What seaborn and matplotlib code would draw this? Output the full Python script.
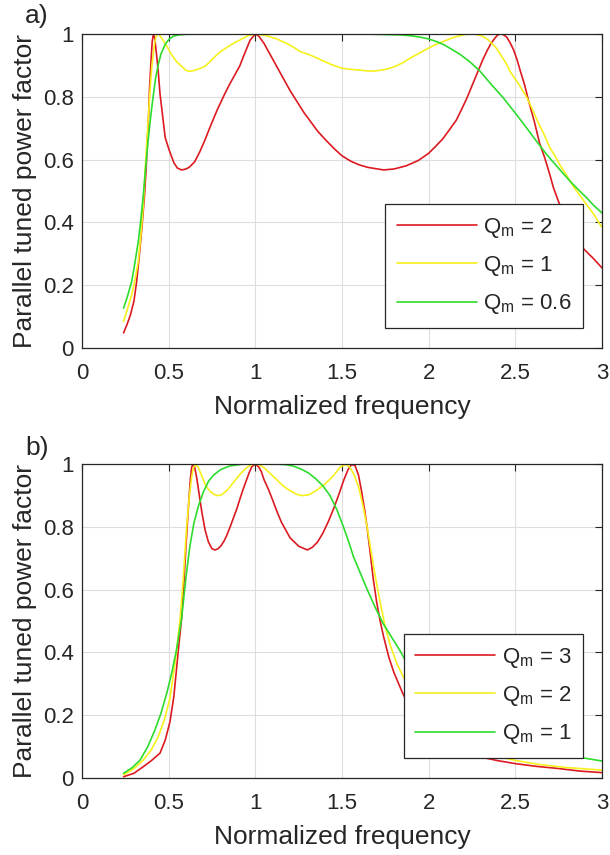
# Parallel tuned power factor vs normalized frequency (two panels)

import pandas as pd
import numpy as np
import matplotlib
matplotlib.use("Agg")
import matplotlib.pyplot as plt
import seaborn as sns

# --------------------------------------------------
# Data
# --------------------------------------------------

# panel a) Qm = 2
a_q2_x = [0.24, 0.26, 0.28, 0.30, 0.315, 0.33, 0.345, 0.36, 0.37, 0.385, 0.39, 0.40, 0.405,
          0.412, 0.42, 0.43, 0.44, 0.45, 0.48, 0.50, 0.53, 0.55, 0.575, 0.60, 0.62, 0.65,
          0.68, 0.71, 0.74, 0.78, 0.82, 0.85, 0.88, 0.91, 0.94, 0.97, 1.0, 1.02, 1.05, 1.08,
          1.12, 1.16, 1.2, 1.24, 1.28, 1.32, 1.36, 1.41, 1.46, 1.5, 1.55, 1.6, 1.65,
          1.74, 1.80, 1.87, 1.94, 2.0, 2.04, 2.08, 2.12, 2.16, 2.19, 2.22, 2.25, 2.28, 2.31,
          2.34, 2.36, 2.38, 2.395, 2.41, 2.43, 2.45, 2.47, 2.49, 2.51, 2.53, 2.555, 2.575,
          2.61, 2.64, 2.67, 2.7, 2.72, 2.75, 2.79, 2.835, 2.89, 2.95, 3.0]
a_q2_y = [0.048, 0.075, 0.106, 0.15, 0.21, 0.29, 0.38, 0.48, 0.57, 0.75, 0.83, 0.93, 0.975,
          1.0, 0.985, 0.935, 0.88, 0.81, 0.67, 0.635, 0.59, 0.573, 0.567, 0.57, 0.576, 0.593,
          0.625, 0.663, 0.705, 0.758, 0.805, 0.838, 0.868, 0.898, 0.94, 0.98, 1.0, 0.993, 0.97, 0.94,
          0.9, 0.86, 0.82, 0.785, 0.75, 0.72, 0.69, 0.66, 0.632, 0.612, 0.595, 0.583, 0.575,
          0.567, 0.57, 0.58, 0.597, 0.62, 0.642, 0.665, 0.695, 0.726, 0.76, 0.795, 0.835, 0.875, 0.915,
          0.95, 0.97, 0.985, 0.995, 1.0, 0.998, 0.99, 0.972, 0.949, 0.918, 0.88, 0.835, 0.79,
          0.72, 0.652, 0.605, 0.55, 0.51, 0.465, 0.41, 0.361, 0.318, 0.285, 0.255]

# panel a) Qm = 1
a_q1_x = [0.24, 0.26, 0.287, 0.305, 0.325, 0.34, 0.354, 0.366, 0.379, 0.39, 0.402, 0.412,
          0.42, 0.427, 0.435, 0.445, 0.46, 0.49, 0.517, 0.545, 0.575, 0.60, 0.62, 0.65, 0.68,
          0.71, 0.74, 0.777, 0.81, 0.85, 0.88, 0.912, 0.96, 1.0, 1.06, 1.12, 1.18, 1.22, 1.258,
          1.316, 1.36, 1.4, 1.45, 1.5, 1.55, 1.6, 1.65, 1.69, 1.75, 1.8, 1.85, 1.893, 1.95, 2.0,
          2.04, 2.085, 2.13, 2.17, 2.21, 2.248, 2.28, 2.31, 2.34, 2.364, 2.39, 2.42, 2.445, 2.47,
          2.52, 2.566, 2.6, 2.63, 2.67, 2.70, 2.73, 2.76, 2.79, 2.816, 2.84, 2.86, 2.88, 2.912,
          2.94, 2.96, 2.98, 3.0]
a_q1_y = [0.085, 0.12, 0.17, 0.215, 0.276, 0.36, 0.456, 0.58, 0.70, 0.80, 0.892, 0.94,
          0.975, 0.99, 1.0, 0.998, 0.987, 0.96, 0.934, 0.912, 0.897, 0.884, 0.881, 0.884, 0.89,
          0.897, 0.913, 0.933, 0.948, 0.962, 0.972, 0.981, 0.995, 1.0, 0.995, 0.985, 0.97, 0.958, 0.944,
          0.933, 0.922, 0.912, 0.9, 0.891, 0.887, 0.885, 0.882, 0.882, 0.887, 0.895, 0.908, 0.923, 0.94, 0.955,
          0.966, 0.976, 0.986, 0.993, 0.998, 1.0, 0.998, 0.993, 0.983, 0.97, 0.955, 0.93, 0.908, 0.88,
          0.84, 0.798, 0.758, 0.72, 0.675, 0.637, 0.61, 0.58, 0.555, 0.531, 0.51, 0.495, 0.48, 0.456,
          0.435, 0.42, 0.4, 0.385]

# panel a) Qm = 0.6
a_q06_x = [0.24, 0.26, 0.287, 0.305, 0.325, 0.34, 0.354, 0.368, 0.383, 0.398, 0.412, 0.425,
           0.44, 0.455, 0.479, 0.50, 0.527, 0.56, 0.6, 0.8, 1.0, 1.3, 1.6, 1.835, 1.9, 1.95,
           2.0, 2.05, 2.09, 2.124, 2.181, 2.24, 2.297, 2.36, 2.431, 2.5, 2.566, 2.62, 2.681,
           2.75, 2.816, 2.86, 2.912, 2.95, 3.0]
a_q06_y = [0.127, 0.16, 0.212, 0.27, 0.34, 0.41, 0.488, 0.58, 0.669, 0.745, 0.807, 0.86,
           0.902, 0.935, 0.966, 0.982, 0.993, 0.997, 0.999, 1.0, 1.0, 1.0, 1.0, 0.997, 0.994, 0.99,
           0.984, 0.975, 0.965, 0.954, 0.935, 0.91, 0.881, 0.84, 0.796, 0.748, 0.70, 0.66, 0.616,
           0.572, 0.531, 0.506, 0.478, 0.455, 0.43]

# panel b) Qm = 3
b_q3_x = [0.24, 0.30, 0.354, 0.40, 0.45, 0.48, 0.508, 0.53, 0.546, 0.56, 0.575, 0.59, 0.60,
          0.613, 0.625, 0.633, 0.64, 0.65, 0.662, 0.677, 0.691, 0.71, 0.729, 0.75, 0.767, 0.785,
          0.80, 0.82, 0.835, 0.855, 0.875, 0.895, 0.912, 0.93, 0.95, 0.965, 0.979, 1.0, 1.02,
          1.035, 1.05, 1.075, 1.1, 1.12, 1.15, 1.18, 1.2, 1.25, 1.3, 1.33, 1.36, 1.39, 1.42,
          1.45, 1.48, 1.51, 1.535, 1.555, 1.575, 1.595, 1.614, 1.63, 1.643, 1.66, 1.68, 1.70,
          1.72, 1.74, 1.77, 1.80, 1.85, 1.9, 1.96, 2.03, 2.1, 2.2, 2.306, 2.4, 2.508, 2.62,
          2.75, 2.87, 3.0]
b_q3_y = [0.004, 0.015, 0.036, 0.055, 0.079, 0.12, 0.18, 0.26, 0.35, 0.43, 0.51, 0.64, 0.74,
          0.854, 0.95, 0.99, 0.998, 0.99, 0.955, 0.9, 0.848, 0.79, 0.752, 0.73, 0.726, 0.73,
          0.738, 0.755, 0.772, 0.80, 0.83, 0.86, 0.89, 0.92, 0.95, 0.973, 0.99, 1.0, 0.99,
          0.975, 0.95, 0.92, 0.885, 0.855, 0.815, 0.785, 0.765, 0.738, 0.726, 0.735, 0.752, 0.78, 0.815,
          0.855, 0.9, 0.948, 0.982, 0.998, 0.995, 0.965, 0.91, 0.855, 0.805, 0.73, 0.635, 0.56,
          0.5, 0.45, 0.385, 0.335, 0.27, 0.215, 0.175, 0.14, 0.113, 0.088, 0.066, 0.055, 0.045, 0.037,
          0.03, 0.022, 0.017]

# panel b) Qm = 2
b_q2_x = [0.24, 0.30, 0.354, 0.40, 0.44, 0.475, 0.508, 0.54, 0.565, 0.585, 0.604, 0.62, 0.633,
          0.643, 0.655, 0.67, 0.691, 0.715, 0.74, 0.765, 0.787, 0.81, 0.84, 0.865, 0.889, 0.92,
          0.95, 0.975, 1.0, 1.025, 1.05, 1.085, 1.12, 1.16, 1.2, 1.24, 1.27, 1.31, 1.35, 1.40,
          1.45, 1.49, 1.52, 1.545, 1.57, 1.595, 1.62, 1.643, 1.665, 1.691, 1.72, 1.748, 1.78,
          1.816, 1.86, 1.902, 1.96, 2.03, 2.12, 2.22, 2.306, 2.4, 2.508, 2.65, 2.8, 3.0]
b_q2_y = [0.01, 0.03, 0.057, 0.09, 0.132, 0.185, 0.255, 0.38, 0.5, 0.64, 0.80, 0.9, 0.96,
          0.988, 0.998, 0.99, 0.962, 0.93, 0.912, 0.902, 0.899, 0.903, 0.918, 0.935, 0.952, 0.972,
          0.988, 0.997, 1.0, 0.997, 0.988, 0.97, 0.952, 0.93, 0.915, 0.903, 0.899, 0.902, 0.915, 0.935,
          0.962, 0.99, 0.998, 0.99, 0.965, 0.928, 0.87, 0.805, 0.73, 0.645, 0.56, 0.485, 0.42,
          0.365, 0.315, 0.275, 0.235, 0.195, 0.155, 0.115, 0.09, 0.068, 0.055, 0.042, 0.033, 0.025]

# panel b) Qm = 1
b_q1_x = [0.24, 0.29, 0.335, 0.38, 0.421, 0.455, 0.489, 0.52, 0.546, 0.565, 0.575, 0.60,
          0.623, 0.645, 0.671, 0.70, 0.73, 0.76, 0.80, 0.85, 0.92, 1.0, 1.1, 1.17, 1.22, 1.27,
          1.31, 1.35, 1.39, 1.43, 1.47, 1.508, 1.54, 1.566, 1.6, 1.643, 1.69, 1.739, 1.79, 1.835,
          1.87, 1.902, 1.95, 2.0, 2.1, 2.2, 2.35, 2.5, 2.65, 2.8, 2.9, 3.0]
b_q1_y = [0.015, 0.033, 0.057, 0.1, 0.153, 0.205, 0.27, 0.34, 0.41, 0.475, 0.51, 0.64,
          0.74, 0.81, 0.865, 0.91, 0.945, 0.965, 0.982, 0.993, 0.999, 1.0, 1.0, 0.998, 0.993, 0.982,
          0.97, 0.952, 0.93, 0.9, 0.855, 0.8, 0.75, 0.705, 0.66, 0.603, 0.545, 0.49, 0.445, 0.405,
          0.37, 0.339, 0.305, 0.275, 0.23, 0.19, 0.145, 0.115, 0.09, 0.072, 0.063, 0.054]

labels_a = ["Q$_\\mathregular{m}$ = 2", "Q$_\\mathregular{m}$ = 1", "Q$_\\mathregular{m}$ = 0.6"]
labels_b = ["Q$_\\mathregular{m}$ = 3", "Q$_\\mathregular{m}$ = 2", "Q$_\\mathregular{m}$ = 1"]
line_colors = ["#DC1A22", "#F6F01C", "#2DDC2D"]

x_ticks = [0, 0.5, 1, 1.5, 2, 2.5, 3]
x_tick_labels = ["0", "0.5", "1", "1.5", "2", "2.5", "3"]
y_ticks = [0, 0.2, 0.4, 0.6, 0.8, 1]
y_tick_labels = ["0", "0.2", "0.4", "0.6", "0.8", "1"]


def make_frame(series, labels):
    parts = []
    for (xs, ys), lab in zip(series, labels):
        parts.append(pd.DataFrame({"f": xs, "pf": ys, "Q": lab}))
    return pd.concat(parts, ignore_index=True)


df_a = make_frame([(a_q2_x, a_q2_y), (a_q1_x, a_q1_y), (a_q06_x, a_q06_y)], labels_a)
df_b = make_frame([(b_q3_x, b_q3_y), (b_q2_x, b_q2_y), (b_q1_x, b_q1_y)], labels_b)

# --------------------------------------------------
# Style
# --------------------------------------------------

sns.set_style("whitegrid")
plt.rcParams["font.family"] = ["Liberation Sans", "DejaVu Sans"]
plt.rcParams["text.color"] = "#262626"
plt.rcParams["axes.labelcolor"] = "#262626"
plt.rcParams["xtick.color"] = "#262626"
plt.rcParams["ytick.color"] = "#262626"

fig = plt.figure(figsize=(6.1, 8.55), dpi=100)
ax_a = fig.add_axes([0.1344, 0.593, 0.8525, 0.3673])
ax_b = fig.add_axes([0.1344, 0.0901, 0.8525, 0.3673])

for ax, df, labels in [(ax_a, df_a, labels_a), (ax_b, df_b, labels_b)]:
    sns.lineplot(data=df, x="f", y="pf", hue="Q", hue_order=labels,
                 palette=line_colors, estimator=None, sort=False,
                 linewidth=1.2, ax=ax)
    ax.set_xlim(0, 3)
    ax.set_ylim(0, 1)
    ax.set_xticks(x_ticks)
    ax.set_xticklabels(x_tick_labels)
    ax.set_yticks(y_ticks)
    ax.set_yticklabels(y_tick_labels)
    ax.tick_params(direction="in", length=5, width=0.8, labelsize=16,
                   top=True, right=True, color="#262626")
    ax.tick_params(axis="x", pad=11)
    ax.tick_params(axis="y", pad=6)
    ax.grid(True, color="#DDDDDD", linewidth=0.8)
    for sp in ax.spines.values():
        sp.set_color("#262626")
        sp.set_linewidth(0.9)
    ax.set_xlabel("Normalized frequency", fontsize=19, labelpad=8)
    ax.set_ylabel("Parallel tuned power factor", fontsize=19, labelpad=4)

    leg = ax.legend(loc="lower right", bbox_to_anchor=(0.963, 0.065),
                    fontsize=16, frameon=True, fancybox=False, framealpha=1,
                    edgecolor="#262626", handlelength=3.6, labelspacing=0.65,
                    borderpad=0.5, handletextpad=0.3, borderaxespad=0)
    leg.get_frame().set_linewidth(0.9)
    for line in leg.get_lines():
        line.set_linewidth(1.2)

fig.text(25 / 610, 1 - 23 / 855, "a)", fontsize=19, color="#262626")
fig.text(25 / 610, 1 - 455 / 855, "b)", fontsize=19, color="#262626")

fig.savefig("out.png", dpi=100)
